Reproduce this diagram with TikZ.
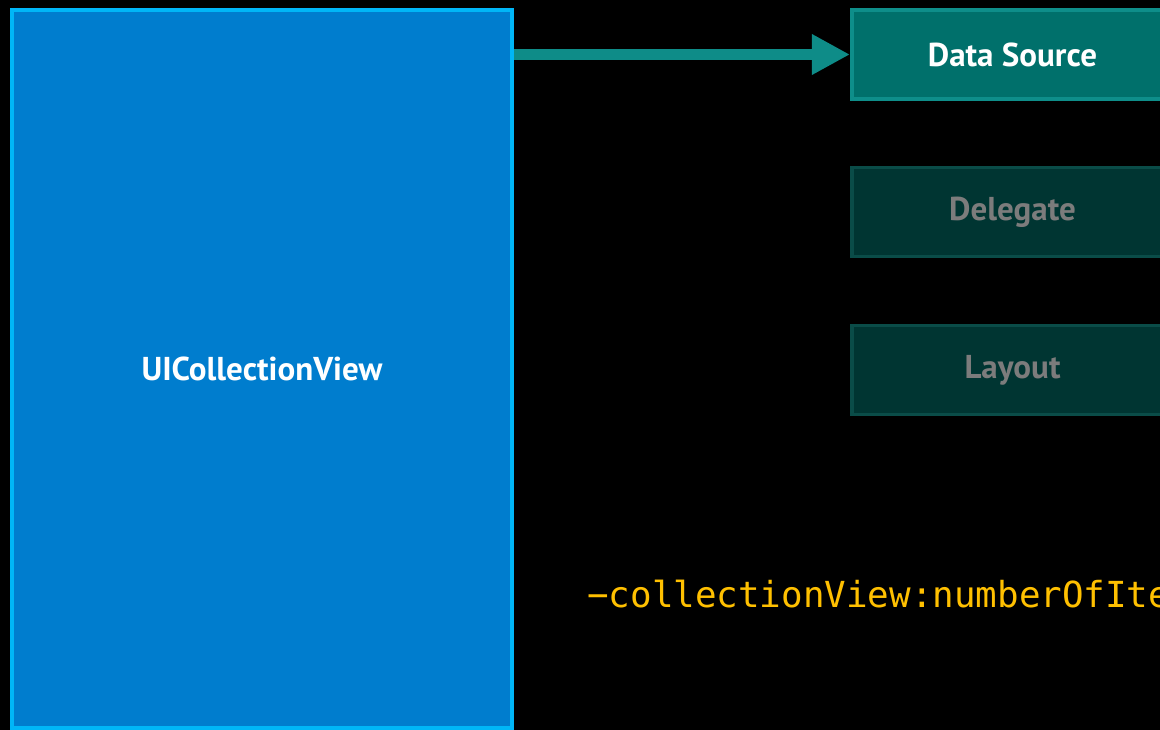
\documentclass[tikz,border=0pt]{standalone}
\usepackage{fontspec}
\setmainfont{PT Sans}
\newfontfamily\codefont{DejaVu Sans Mono}
\usetikzlibrary{arrows.meta}
\definecolor{bgblack}{HTML}{000000}
\definecolor{cvfill}{HTML}{007DCE}
\definecolor{cvline}{HTML}{00B6F7}
\definecolor{dsfill}{HTML}{00706B}
\definecolor{dsline}{HTML}{0E8E8A}
\definecolor{dimfill}{HTML}{003532}
\definecolor{dimline}{HTML}{0A4C48}
\definecolor{dimtext}{HTML}{7C7C7C}
\definecolor{arrowteal}{HTML}{0E8C88}
\definecolor{codeyellow}{HTML}{FFC000}
\tikzset{
  labeltext/.style={font=\fontsize{23.5pt}{28pt}\selectfont\bfseries},
  bigbox/.style={draw=cvline, fill=cvfill, line width=0.1cm, text=white, labeltext,
    minimum width=12.5cm, minimum height=17.95cm, inner sep=0pt, outer sep=0pt},
  activebox/.style={draw=dsline, fill=dsfill, line width=0.09cm, text=white, labeltext,
    minimum width=8.025cm, minimum height=2.225cm, inner sep=0pt, outer sep=0pt},
  dimbox/.style={draw=dimline, fill=dimfill, line width=0.09cm, text=dimtext, labeltext,
    minimum width=8.025cm, minimum height=2.225cm, inner sep=0pt, outer sep=0pt},
  connector/.style={draw=arrowteal, line width=0.26cm,
    -{Triangle[length=0.95cm, width=0.95cm]}},
  codetext/.style={text=codeyellow, font=\codefont\fontsize{25.5pt}{30pt}\selectfont,
    anchor=base west, inner sep=0pt}
}
\begin{document}
\begin{tikzpicture}[x=0.025cm, y=-0.025cm]
\useasboundingbox (0,0) rectangle (1160,730);
\fill[bgblack] (0,0) rectangle (1160,730);
\begin{scope}
\clip (0,0) rectangle (1160,730);
\node[bigbox] (cv) at (262,369) {UICollectionView};
\node[activebox] (ds) at (1012.5,54.5) {Data Source};
\node[dimbox] (dg) at (1012.5,212) {Delegate};
\node[dimbox] (ly) at (1012.5,370) {Layout};
\draw[connector, shorten <=0.05cm, shorten >=0.05cm] (cv.east |- ds.west) -- (ds.west);
\node[codetext] (code) at (587,607) {−collectionView:numberOfItemsInSection:};
\end{scope}
\end{tikzpicture}
\end{document}
